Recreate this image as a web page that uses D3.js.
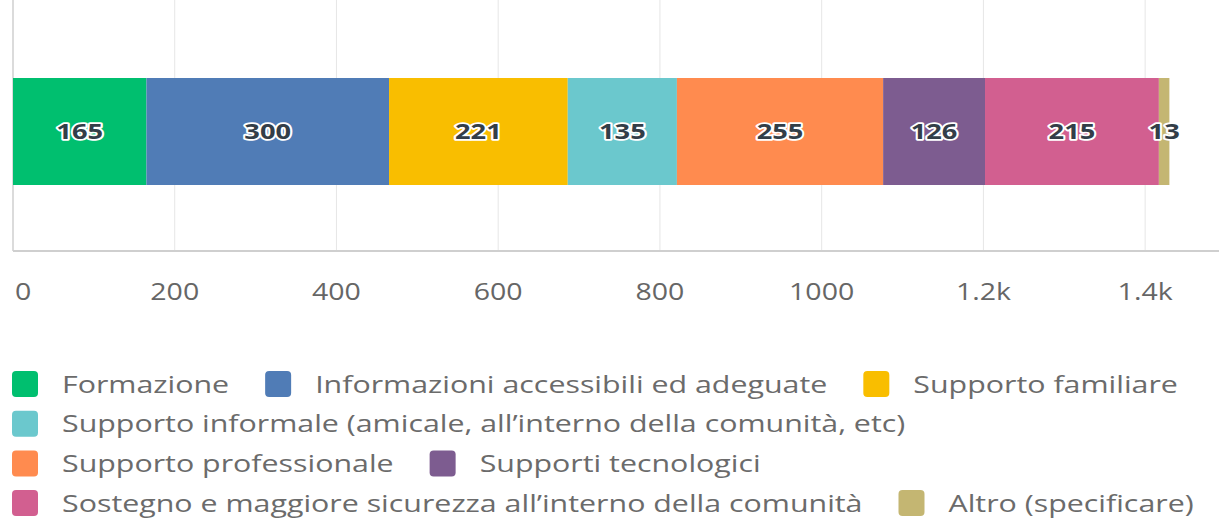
<!DOCTYPE html>
<html>
<head>
<meta charset="utf-8">
<script src="https://cdn.jsdelivr.net/npm/d3@7"></script>
<style>
  body { margin: 0; background: #fff; }
  svg { display: block; font-family: "Open Sans", sans-serif; }
</style>
</head>
<body>
<div id="chart"></div>
<script>
// categories, values and colours
const categories = [
    "Formazione",
    "Informazioni accessibili ed adeguate",
    "Supporto familiare",
    "Supporto informale (amicale, all\u2019interno della comunit\u00e0, etc)",
    "Supporto professionale",
    "Supporti tecnologici",
    "Sostegno e maggiore sicurezza all\u2019interno della comunit\u00e0",
    "Altro (specificare)"
];
const values = [165, 300, 221, 135, 255, 126, 215, 13];
const colors = ["#00bf6f", "#507cb6", "#f9be00", "#6bc8cd", "#ff8b4f", "#7d5c90", "#d25f90", "#c4b672"];
const tickValues = [0, 200, 400, 600, 800, 1000, 1200, 1400];

const width = 1219, height = 529;
// the source picture is stretched sideways, so text gets a horizontal scale
const sx = 1.24;

const svg = d3.select("#chart").append("svg")
    .attr("width", width)
    .attr("height", height);

const x = d3.scaleLinear().domain([0, 1500]).range([13, 1226]);
const axisY = 251;

// stack the values
let acc = 0;
const segs = values.map((v, i) => {
    const s = { name: categories[i], value: v, x0: acc, x1: acc + v, color: colors[i] };
    acc += v;
    return s;
});

// gridlines
svg.append("g")
    .selectAll("line")
    .data(tickValues.slice(1))
    .join("line")
    .attr("x1", d => x(d)).attr("x2", d => x(d))
    .attr("y1", 0).attr("y2", axisY)
    .attr("stroke", "#e6e6e6")
    .attr("stroke-width", 1);

// axis lines
svg.append("line")
    .attr("x1", x(0)).attr("x2", x(0))
    .attr("y1", 0).attr("y2", axisY)
    .attr("stroke", "#cfcfcf").attr("stroke-width", 1.5);
svg.append("line")
    .attr("x1", x(0)).attr("x2", width)
    .attr("y1", axisY).attr("y2", axisY)
    .attr("stroke", "#cfcfcf").attr("stroke-width", 2);

// tick labels: centred on gridlines, the first one kept inside the edge
const fmt = d => d >= 1200 ? d3.format(".1f")(d / 1000) + "k" : String(d);
svg.append("g")
    .selectAll("text")
    .data(tickValues)
    .join("text")
    .attr("transform", d => `translate(${d === 0 ? x(d) + 2 : x(d)},292) scale(${sx},1)`)
    .attr("dy", "0.35em")
    .attr("text-anchor", d => d === 0 ? "start" : "middle")
    .attr("fill", "#666")
    .style("font-size", "23px")
    .text(fmt);

// bars
const barTop = 78, barBottom = 185;
svg.append("g")
    .selectAll("rect")
    .data(segs)
    .join("rect")
    .attr("x", d => x(d.x0))
    .attr("y", barTop)
    .attr("width", d => x(d.x1) - x(d.x0))
    .attr("height", barBottom - barTop)
    .attr("fill", d => d.color);

// value labels
svg.append("g")
    .selectAll("text")
    .data(segs)
    .join("text")
    .attr("transform", d => `translate(${(x(d.x0) + x(d.x1)) / 2},${(barTop + barBottom) / 2}) scale(${sx},1)`)
    .attr("dy", "0.35em")
    .attr("text-anchor", "middle")
    .attr("fill", "#333e48")
    .attr("stroke", "#fff")
    .attr("stroke-width", 3.5)
    .attr("stroke-linejoin", "round")
    .attr("paint-order", "stroke")
    .style("font-size", "22px")
    .style("font-weight", "700")
    .text(d => d.value);

// legend, flowing left to right and wrapping
const legend = svg.append("g");
const rowH = 39.7, sw = 26, maxW = 1219;
let lx = 12, ly = 384;
segs.forEach(d => {
    const item = legend.append("g");
    const t = item.append("text")
        .attr("transform", `translate(${sw + 24},0) scale(${sx},1)`)
        .attr("dy", "0.35em")
        .attr("fill", "#6b6b6b")
        .style("font-size", "24.5px")
        .text(d.name);
    const w = sw + 24 + t.node().getComputedTextLength() * sx;
    if (lx > 12 && lx + w > maxW) { lx = 12; ly += rowH; }
    item.attr("transform", `translate(${lx},${ly})`);
    item.insert("rect", "text")
        .attr("x", 0).attr("y", -sw / 2)
        .attr("width", sw).attr("height", sw)
        .attr("rx", 4)
        .attr("fill", d.color);
    lx += w + 36;
});
</script>
</body>
</html>
